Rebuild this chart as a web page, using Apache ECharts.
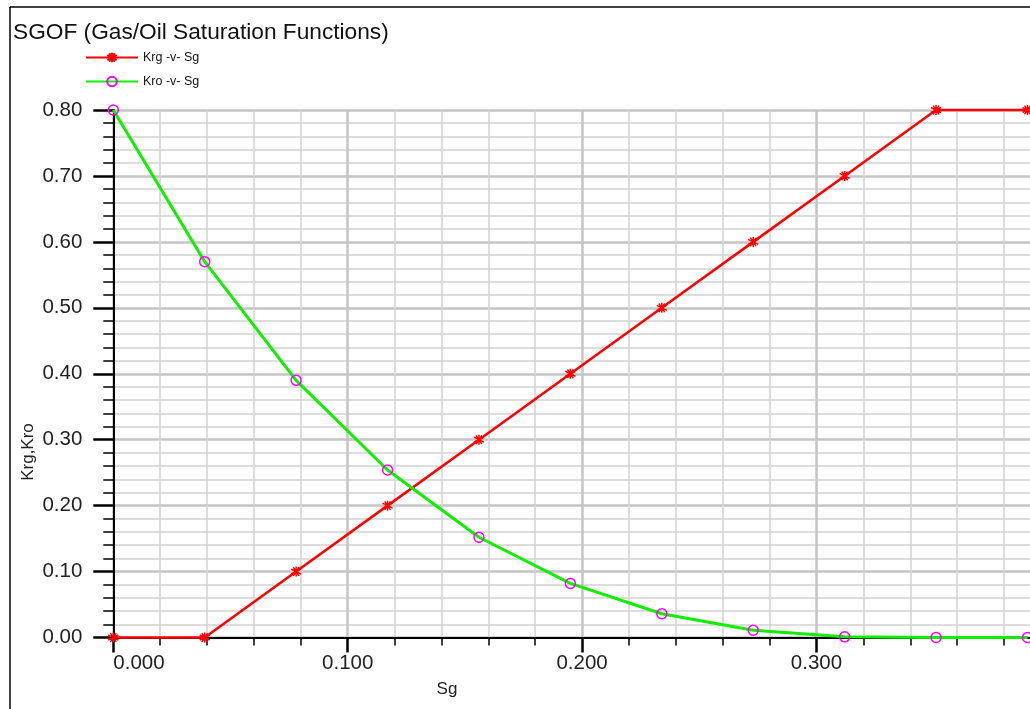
<!DOCTYPE html>
<html><head><meta charset="utf-8">
<script src="https://cdn.jsdelivr.net/npm/echarts@6/dist/echarts.min.js"></script>
<style>html,body{margin:0;padding:0;background:#fff}#c{width:1030px;height:709px}</style>
</head><body><div id="c"></div>
<script>
const sg  = [0.000, 0.039, 0.078, 0.117, 0.156, 0.195, 0.234, 0.273, 0.312, 0.351, 0.390];
const krg = [0.00, 0.00, 0.10, 0.20, 0.30, 0.40, 0.50, 0.60, 0.70, 0.80, 0.80];
const kro = [0.80, 0.57, 0.39, 0.254, 0.152, 0.082, 0.036, 0.011, 0.001, 0.0, 0.0];
const titleText = 'SGOF (Gas/Oil Saturation Functions)';
const seriesNames = ['Krg -v- Sg', 'Kro -v- Sg'];
const yName = 'Krg,Kro';
const xName = 'Sg';

const FF = 'Liberation Sans';
const chart = echarts.init(document.getElementById('c'), null, {renderer: 'canvas'});
const star = 'path://M5,0L5,10M0.67,2.5L9.33,7.5M0.67,7.5L9.33,2.5M2.5,0.67L7.5,9.33M7.5,0.67L2.5,9.33';
chart.setOption({
  animation: false,
  backgroundColor: '#fff',
  title: {text: titleText, left: 8, top: 16,
    textStyle: {fontFamily: FF, fontSize: 22.7, fontWeight: 'normal', color: '#111'}},
  legend: {orient: 'vertical', left: 85, top: 51, padding: 0, itemWidth: 52, itemHeight: 12, itemGap: 11,
    textStyle: {fontFamily: FF, fontSize: 12.5, color: '#111'},
    data: seriesNames},
  grid: {left: 113.3, top: 110, width: 937.6, height: 527.5, containLabel: false, outerBoundsMode: 'none'},
  xAxis: {type: 'value', min: 0, max: 0.4, interval: 0.1,
    axisLine: {show: true, onZero: false, lineStyle: {color: '#000', width: 2}},
    axisTick: {show: true, length: 15, lineStyle: {color: '#000', width: 2.5}},
    minorTick: {show: true, splitNumber: 5, length: 8, lineStyle: {color: '#000', width: 1.5}},
    splitLine: {show: true, lineStyle: {color: '#c4c4c4', width: 2.5}},
    minorSplitLine: {show: true, lineStyle: {color: '#d2d2d2', width: 1.5}},
    axisLabel: {fontFamily: FF, fontSize: 20.5, color: '#222', margin: 15, showMaxLabel: false,
      alignMinLabel: 'left', formatter: v => v.toFixed(3)}},
  yAxis: {type: 'value', min: 0, max: 0.8, interval: 0.1,
    axisLine: {show: true, onZero: false, lineStyle: {color: '#000', width: 2}},
    axisTick: {show: true, length: 20, lineStyle: {color: '#000', width: 2.5}},
    minorTick: {show: true, splitNumber: 5, length: 10, lineStyle: {color: '#000', width: 1.5}},
    splitLine: {show: true, lineStyle: {color: '#c4c4c4', width: 2.5}},
    minorSplitLine: {show: true, lineStyle: {color: '#d2d2d2', width: 1.5}},
    axisLabel: {fontFamily: FF, fontSize: 20.5, color: '#222', margin: 31, formatter: v => v.toFixed(2)}},
  graphic: [
    {type: 'line', shape: {x1: 10, y1: 7, x2: 1030, y2: 7}, style: {stroke: '#000', lineWidth: 1.5}},
    {type: 'line', shape: {x1: 10, y1: 7, x2: 10, y2: 709}, style: {stroke: '#000', lineWidth: 1.5}},
    {type: 'text', x: 28, y: 452, rotation: Math.PI / 2, style: {text: yName, fontFamily: FF, fontSize: 17,
      fill: '#222', align: 'center', verticalAlign: 'middle'}},
    {type: 'text', x: 447, y: 689, style: {text: xName, fontFamily: FF, fontSize: 17,
      fill: '#222', align: 'center', verticalAlign: 'middle'}}
  ],
  series: [
    {name: seriesNames[0], type: 'line', data: sg.map((x, i) => [x, krg[i]]),
      color: '#ff0000', symbol: star, symbolSize: 10, showAllSymbol: true, clip: false,
      lineStyle: {color: '#ff0000', width: 2.5},
      itemStyle: {color: 'rgba(0,0,0,0)', borderColor: '#ff0000', borderWidth: 1.5}, z: 3},
    {name: seriesNames[1], type: 'line', data: sg.map((x, i) => [x, kro[i]]),
      color: '#00ee00', symbol: 'circle', symbolSize: 10, showAllSymbol: true, clip: false,
      lineStyle: {color: '#11ee00', width: 3},
      itemStyle: {color: 'rgba(0,0,0,0)', borderColor: '#ff00ff', borderWidth: 1.5}, z: 4}
  ]
});
</script>
</body></html>
